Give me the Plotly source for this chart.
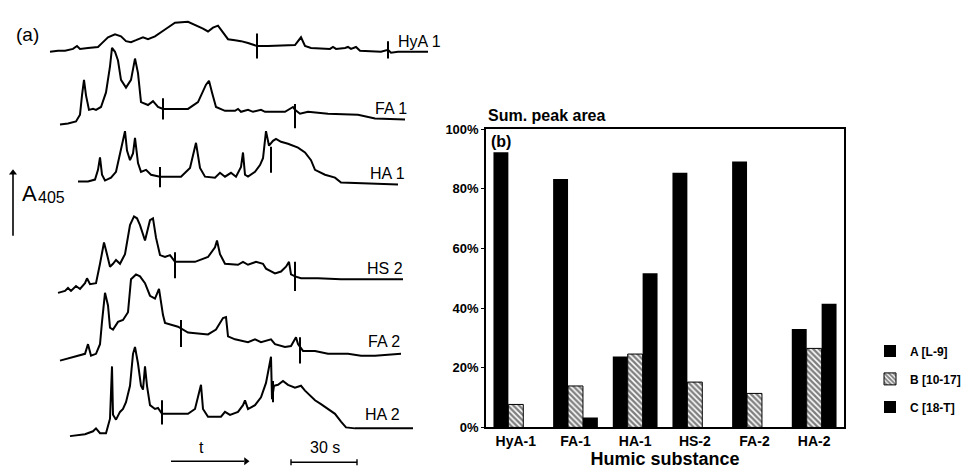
import plotly.graph_objects as go

# ---------------- Panel (a): chromatogram traces ----------------
# time axis in arbitrary display units, absorbance in display units (down = larger value)
HYA1_T = [42,50,57,65,69,72,80,90,95,100,107,113,118,123,128,135,140,147,157,167,180,187,192,195,200,205,210,215,220,227,233,240,249,260,287,293,297,303,322,325,328,337,340,343,348,352,373,380,383,390,420]
HYA1_A = [38,37,37,35,32,35,34,33,28,23,20,22,27,28,26,23,25,22,15,8,7,10,12,14,17,13,11,18,25,26,27,29,32,32,31,23,32,34,35,33,35,34,33,35,33,37,38,36,39,38,38]

FA1_T = [52,60,68,72,74,76,78,81,85,88,93,98,102,104,107,110,113,118,123,127,130,133,140,145,150,155,180,190,198,201,204,208,217,227,230,233,240,245,253,257,277,285,287,292,300,320,350,367,397]
FA1_A = [113,112,110,103,83,67,83,98,97,98,95,80,53,34,38,47,67,75,67,45,60,90,93,89,95,97,97,90,72,68,80,95,99,99,97,100,98,100,98,100,100,95,98,102,100,102,103,107,108]

HA1_T = [70,80,87,90,92,94,97,103,108,113,117,119,122,125,127,130,133,138,143,152,173,182,188,192,197,207,212,217,223,228,233,235,237,240,247,252,255,258,261,265,268,273,280,290,297,303,307,317,327,333,390]
HA1_A = [172,172,170,160,147,165,171,168,162,140,120,140,150,143,127,153,162,160,165,167,167,158,132,158,167,168,163,167,163,167,157,142,165,167,162,155,148,120,135,130,128,131,133,137,142,150,160,165,168,173,175]

HS2_T = [50,57,60,63,68,72,77,79,82,88,92,96,98,102,105,108,112,117,122,126,129,132,137,142,145,148,152,157,162,167,187,200,207,209,212,217,230,235,240,248,255,258,267,273,278,281,283,287,293,310,333,395]
HS2_A = [287,285,282,285,280,283,277,272,278,277,257,235,243,260,257,253,257,247,217,208,210,217,233,212,210,230,248,250,248,255,255,250,240,233,247,257,258,255,258,255,257,262,267,265,260,255,268,270,272,272,273,273]

FA2_T = [52,60,68,72,77,80,83,88,92,94,97,100,102,105,110,115,120,123,128,132,137,142,147,151,153,155,157,163,170,180,200,208,215,218,220,227,240,247,253,263,267,277,283,288,290,295,307,320,333,340,353,367,393]
FA2_A = [357,355,353,352,350,340,352,350,340,317,287,300,323,325,317,315,307,273,268,270,277,290,293,283,297,310,318,320,322,328,330,325,313,312,332,335,338,335,338,335,340,343,342,333,340,347,347,350,350,350,352,352,350]

HA2_T = [62,77,85,88,92,98,102,104,105,108,112,115,118,122,125,127,130,133,135,137,139,142,147,150,154,160,180,187,193,195,200,213,217,222,230,235,237,240,247,253,258,263,264,266,270,275,280,287,293,297,302,307,313,320,327,333,338,347,405]
HA2_A = [435,433,430,427,432,432,417,363,413,418,410,407,400,383,350,343,360,383,387,363,383,403,407,406,412,412,412,407,382,407,415,415,410,413,410,403,398,407,403,395,380,353,397,383,382,378,382,385,383,388,393,398,402,407,412,420,426,427,427]

TRACE_NAMES = ["HyA 1", "FA 1", "HA 1", "HS 2", "FA 2", "HA 2"]
TRACE_T = [HYA1_T, FA1_T, HA1_T, HS2_T, FA2_T, HA2_T]
TRACE_A = [HYA1_A, FA1_A, HA1_A, HS2_A, FA2_A, HA2_A]

# injection / fraction markers: time, upper and lower extent
MARK_T = [249, 380, 155, 287, 152, 263, 167, 287, 173, 292, 154, 265]
MARK_TOP = [19, 27, 86, 92, 157, 136, 245, 255, 315, 333, 398, 378]
MARK_BOT = [45, 45, 108, 117, 178, 163, 272, 285, 343, 360, 423, 400]

# ---------------- Panel (b): bar chart ----------------
SUBSTANCES = ["HyA-1", "FA-1", "HA-1", "HS-2", "FA-2", "HA-2"]
A_L9 = [92.3, 83.3, 23.8, 85.4, 89.2, 33.0]
B_10_17 = [7.7, 13.9, 24.6, 15.2, 11.4, 26.5]
C_18_T = [0, 3.3, 51.7, 0, 0, 41.5]
SERIES_NAMES = ["A [L-9]", "B [10-17]", "C [18-T]"]
Y_TICKS = [0, 20, 40, 60, 80, 100]
Y_TICK_LABELS = ["0%", "20%", "40%", "60%", "80%", "100%"]

W, H = 973, 470
FONT = "Liberation Sans, Arial, sans-serif"

fig = go.Figure()

for t, a in zip(TRACE_T, TRACE_A):
    fig.add_trace(go.Scatter(x=t, y=a, mode="lines", line=dict(color="black", width=2),
                             xaxis="x", yaxis="y", showlegend=False, hoverinfo="skip"))

mx, my = [], []
for t, y0, y1 in zip(MARK_T, MARK_TOP, MARK_BOT):
    mx += [t, t, None]
    my += [y0, y1, None]
fig.add_trace(go.Scatter(x=mx, y=my, mode="lines", line=dict(color="black", width=2),
                         xaxis="x", yaxis="y", showlegend=False, hoverinfo="skip"))

# A405 axis arrow (vertical) and time arrow (horizontal)
fig.add_trace(go.Scatter(x=[5, 5], y=[228, 164], mode="lines", line=dict(color="black", width=1.6),
                         xaxis="x", yaxis="y", showlegend=False, hoverinfo="skip"))
fig.add_trace(go.Scatter(x=[5], y=[163], mode="markers",
                         marker=dict(symbol="triangle-up", size=7, color="black"),
                         xaxis="x", yaxis="y", showlegend=False, hoverinfo="skip"))
fig.add_trace(go.Scatter(x=[163, 236], y=[461, 461], mode="lines", line=dict(color="black", width=1.4),
                         xaxis="x", yaxis="y", showlegend=False, hoverinfo="skip"))
fig.add_trace(go.Scatter(x=[238], y=[461], mode="markers",
                         marker=dict(symbol="triangle-right", size=7, color="black"),
                         xaxis="x", yaxis="y", showlegend=False, hoverinfo="skip"))

# bars
fig.add_trace(go.Bar(x=SUBSTANCES, y=A_L9, name=SERIES_NAMES[0], legendgroup="a",
                     marker=dict(color="black", line=dict(color="black", width=0)),
                     xaxis="x2", yaxis="y2"))
fig.add_trace(go.Bar(x=SUBSTANCES, y=B_10_17, name=SERIES_NAMES[1], legendgroup="b",
                     marker=dict(color="white", line=dict(color="black", width=1),
                                 pattern=dict(shape="\\", fgcolor="black", bgcolor="white",
                                              size=4, solidity=0.6)),
                     xaxis="x2", yaxis="y2"))
fig.add_trace(go.Bar(x=SUBSTANCES, y=C_18_T, name=SERIES_NAMES[2], legendgroup="c",
                     marker=dict(color="black", line=dict(color="black", width=0)),
                     xaxis="x2", yaxis="y2"))

# text for panel (a)
LEFT_LABEL_POS = [(388, 27), (365, 97), (360, 164), (357, 262), (358, 337), (355, 413)]
for name, (lx, ly) in zip(TRACE_NAMES, LEFT_LABEL_POS):
    fig.add_annotation(x=lx, y=ly, xref="x", yref="y", text=name, showarrow=False,
                       xanchor="left", yanchor="middle", font=dict(size=16, color="black", family=FONT))

fig.add_annotation(x=6, y=20, xref="x", yref="y", text="(a)", showarrow=False,
                   xanchor="left", yanchor="middle", font=dict(size=19, color="black", family=FONT))
fig.add_annotation(x=12, y=184, xref="x", yref="y", text="A", showarrow=False,
                   xanchor="left", yanchor="middle", font=dict(size=22, color="black", family=FONT))
fig.add_annotation(x=28, y=189, xref="x", yref="y", text="405", showarrow=False,
                   xanchor="left", yanchor="middle", font=dict(size=16, color="black", family=FONT))
fig.add_annotation(x=193, y=447, xref="x", yref="y", text="t", showarrow=False,
                   font=dict(size=16, color="black", family=FONT))
fig.add_annotation(x=317, y=447, xref="x", yref="y", text="30 s", showarrow=False,
                   font=dict(size=16, color="black", family=FONT))
fig.add_shape(type="line", x0=283, x1=349, y0=462, y1=462, xref="x", yref="y",
              line=dict(color="black", width=1.4))
for sx in (283, 349):
    fig.add_shape(type="line", x0=sx, x1=sx, y0=459, y1=465, xref="x", yref="y",
                  line=dict(color="black", width=1.4))

# text for panel (b)
fig.add_annotation(x=478 / W, y=1 - 104 / H, xref="paper", yref="paper", text="Sum. peak area",
                   showarrow=False, xanchor="left", yanchor="middle",
                   font=dict(size=16, color="black", family=FONT, weight="bold"))
fig.add_annotation(x=481 / W, y=1 - 131 / H, xref="paper", yref="paper", text="(b)",
                   showarrow=False, xanchor="left", yanchor="middle",
                   font=dict(size=16, color="black", family=FONT, weight="bold"))

fig.update_layout(
    width=W, height=H,
    margin=dict(l=0, r=0, t=0, b=0),
    paper_bgcolor="white", plot_bgcolor="white",
    barmode="group", bargap=0.25, bargroupgap=0,
    xaxis=dict(domain=[0, 460 / W], range=[0, 460], visible=False, fixedrange=True),
    yaxis=dict(domain=[0, 1], range=[470, 0], visible=False, fixedrange=True),
    xaxis2=dict(domain=[478 / W, 836 / W], anchor="y2", showline=True, mirror=True,
                linecolor="black", linewidth=1.5, ticks="", showgrid=False,
                tickfont=dict(size=14, color="black", family=FONT, weight="bold"),
                title=dict(text="Humic substance", standoff=3,
                           font=dict(size=18, color="black", family=FONT, weight="bold"))),
    yaxis2=dict(domain=[44 / H, 352 / H], anchor="x2", range=[0, 100], tickvals=Y_TICKS,
                ticktext=Y_TICK_LABELS, showline=True, mirror=True, linecolor="black",
                linewidth=1.5, ticks="outside", ticklen=3, tickcolor="black", showgrid=False,
                zeroline=False,
                tickfont=dict(size=13, color="black", family=FONT, weight="bold")),
    legend=dict(x=862 / W, y=1 - 332 / H, xanchor="left", yanchor="top",
                font=dict(size=12, color="black", family=FONT, weight="bold"),
                tracegroupgap=9, bgcolor="rgba(0,0,0,0)"),
    showlegend=True,
)

fig.write_html("out.html")
